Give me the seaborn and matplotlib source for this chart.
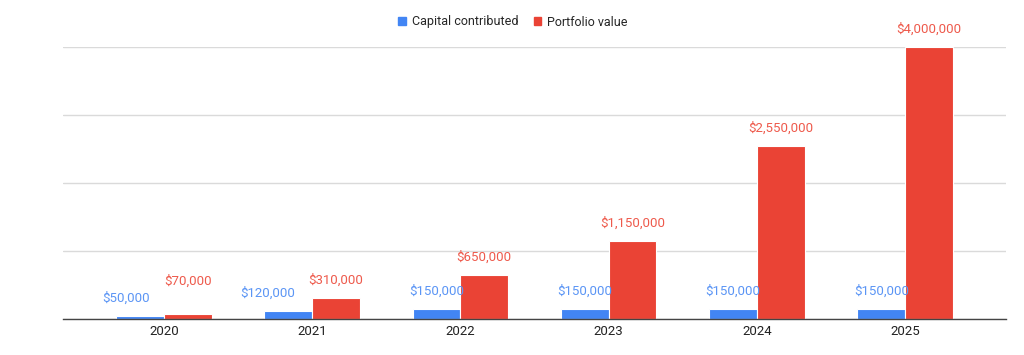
import matplotlib
matplotlib.use("Agg")
import matplotlib.pyplot as plt
import seaborn as sns
import pandas as pd
from matplotlib.patches import Patch

years = ["2020", "2021", "2022", "2023", "2024", "2025"]
capital = [50000, 120000, 150000, 150000, 150000, 150000]
portfolio = [70000, 310000, 650000, 1150000, 2550000, 4000000]
series_names = ["Capital contributed", "Portfolio value"]

df = pd.DataFrame({
    "year": years * 2,
    "value": capital + portfolio,
    "series": [series_names[0]] * len(years) + [series_names[1]] * len(years),
})

sns.set_theme(style="white")
plt.rcParams["font.family"] = ["Roboto", "DejaVu Sans"]

blue = "#4285F4"
red = "#EA4335"
blue_txt = "#5B95F5"
red_txt = "#EE5A4C"

fig = plt.figure(figsize=(10.24, 3.55), dpi=100)
ax = fig.add_axes([63 / 1024, 1 - 319 / 355, (1006 - 63) / 1024, (319 - 47) / 355])

sns.barplot(data=df, x="year", y="value", hue="series", order=years,
            hue_order=series_names, palette=[blue, red], width=0.645,
            saturation=1, edgecolor="white", linewidth=0.8, ax=ax, legend=False)

ax.set_ylim(0, 4000000)
ax.set_xlim(-0.68, 5.68)
ax.set_yticks([0, 1000000, 2000000, 3000000, 4000000])
ax.set_yticklabels([])
ax.tick_params(axis="y", length=0)
ax.yaxis.grid(True, color="#DADADA", linewidth=1)
ax.set_axisbelow(True)
for s in ["top", "right", "left"]:
    ax.spines[s].set_visible(False)
ax.spines["bottom"].set_color("#444444")
ax.spines["bottom"].set_linewidth(1)
ax.set_xlabel("")
ax.set_ylabel("")
ax.tick_params(axis="x", length=0, pad=4, labelsize=9.5, labelcolor="#222222")

# data labels
blue_bars = ax.containers[0]
red_bars = ax.containers[1]
blue_shift = [-10, -15, 0, 0, 0, 0]
red_extra = [11, 0, 0, 0, 0, 0]
for i, (b, v) in enumerate(zip(blue_bars, capital)):
    ax.annotate(f"${v:,.0f}", (b.get_x() + b.get_width() / 2, b.get_height()),
                xytext=(blue_shift[i], 8), textcoords="offset points",
                ha="center", va="bottom", color=blue_txt, fontsize=9.5)
for i, (b, v) in enumerate(zip(red_bars, portfolio)):
    ax.annotate(f"${v:,.0f}", (b.get_x() + b.get_width() / 2, b.get_height()),
                xytext=(0, 8 + red_extra[i]), textcoords="offset points",
                ha="center", va="bottom", color=red_txt, fontsize=9.5,
                annotation_clip=False)

handles = [Patch(color=blue, label=series_names[0]), Patch(color=red, label=series_names[1])]
fig.legend(handles=handles, loc="center", bbox_to_anchor=(513 / 1024, 1 - 22 / 355), ncol=2,
           frameon=False, fontsize=9, handlelength=0.6, handleheight=0.6,
           handletextpad=0.5, columnspacing=1.2)

fig.savefig("out.png", dpi=100)
